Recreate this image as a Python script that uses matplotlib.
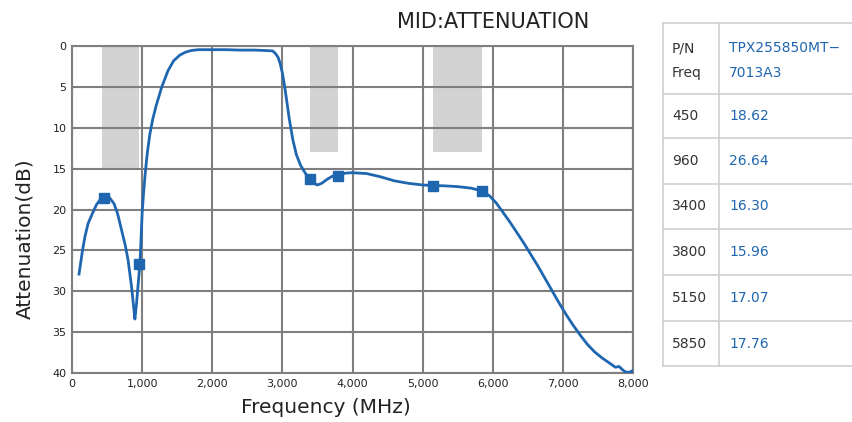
import matplotlib.pyplot as plt
from matplotlib.lines import Line2D
from matplotlib.ticker import FuncFormatter

# measured response (MHz, dB)
freq = [100, 150, 185, 230, 285, 350, 400, 470, 530, 600, 650, 712, 760,
        800, 850, 880, 897, 920, 945, 970, 985, 1000, 1020, 1045, 1075, 1110,
        1150, 1200, 1280, 1370, 1450, 1540, 1620, 1700, 1800, 2000, 2200, 2400,
        2600, 2750, 2860, 2900, 2940, 2970, 3000, 3030, 3060, 3100, 3150, 3200,
        3260, 3330, 3400, 3450, 3500, 3560, 3640, 3720, 3800, 3900, 4000, 4200,
        4400, 4600, 4800, 5000, 5150, 5300, 5500, 5700, 5850, 5950, 6050, 6150,
        6250, 6350, 6450, 6550, 6650, 6750, 6850, 6950, 7050, 7150, 7250, 7350,
        7450, 7550, 7650, 7700, 7750, 7800, 7850, 7900, 7950, 8000]
atten = [27.9, 25.0, 23.3, 21.7, 20.6, 19.4, 18.8, 18.3, 18.5, 19.3, 20.5,
         22.7, 24.4, 26.2, 29.5, 32.0, 33.4, 31.5, 29.0, 26.5, 23.5, 20.5,
         18.0, 15.5, 13.0, 10.8, 9.0, 7.3, 5.0, 3.0, 1.8, 1.1, 0.75, 0.55, 0.45,
         0.45, 0.45, 0.5, 0.5, 0.55, 0.6, 0.9, 1.4, 2.2, 3.3, 4.8, 6.6, 9.0,
         11.5, 13.3, 14.6, 15.6, 16.3, 16.8, 17.0, 16.8, 16.3, 15.9, 15.8, 15.55,
         15.5, 15.6, 16.0, 16.5, 16.8, 17.0, 17.07, 17.1, 17.2, 17.4, 17.76,
         18.3, 19.2, 20.4, 21.6, 22.9, 24.2, 25.6, 27.0, 28.5, 30.0, 31.5, 32.9,
         34.2, 35.4, 36.5, 37.4, 38.1, 38.7, 39.0, 39.3, 39.2, 39.6, 39.9, 39.9,
         39.7]

# spec points
spec_freq = [450, 960, 3400, 3800, 5150, 5850]
spec_atten = [18.62, 26.64, 16.30, 15.96, 17.07, 17.76]
spec_labels = ["18.62", "26.64", "16.30", "15.96", "17.07", "17.76"]

# passband / rejection windows: (start, stop, depth)
bands = [(425, 955, 15), (3400, 3800, 13), (5150, 5850, 13)]

blue = "#1f66b0"
grid_gray = "#7f7f7f"

fig = plt.figure(figsize=(8.53, 4.22), dpi=100)
ax = fig.add_axes([72/853, 49/422, 561/853, 327/422])

for x0, x1, d in bands:
    ax.bar(x0, d, width=x1 - x0, bottom=0, align="edge", color="#d3d3d3", zorder=1)

ax.plot(freq, atten, color=blue, lw=2, zorder=3)
ax.plot(spec_freq, spec_atten, "s", color=blue, ms=7, zorder=4)

ax.set_xlim(0, 8000)
ax.set_ylim(40, 0)
ax.set_xticks(range(0, 8001, 1000))
ax.set_yticks(range(0, 41, 5))
ax.xaxis.set_major_formatter(FuncFormatter(lambda v, p: f"{int(v):,}"))
ax.grid(True, color=grid_gray, lw=1.5, zorder=2)
ax.set_axisbelow(False)
for s in ax.spines.values():
    s.set_color(grid_gray)
    s.set_linewidth(1.5)
ax.tick_params(length=0, labelsize=8, pad=4)
for lab in ax.get_xticklabels() + ax.get_yticklabels():
    lab.set_color("#222222")

ax.set_xlabel("Frequency (MHz)", fontsize=14.5, color="#222222")
ax.set_ylabel("Attenuation(dB)", fontsize=14.5, color="#222222")
ax.xaxis.set_label_coords(0.453, -0.076)
ax.yaxis.set_label_coords(-0.068, 0.41)
fig.text(493/853, 1 - 22/422, "MID:ATTENUATION", ha="center", va="center",
         fontsize=15, color="#222222")

# data table on the right
tx0, tx1, tx2 = 663, 719, 860
rows_y = [23, 94, 138, 184, 229, 275, 321, 366]
line_kw = dict(color="#cfcfcf", lw=1.2, transform=fig.transFigure)
for y in rows_y:
    fig.add_artist(Line2D([tx0/853, tx2/853], [1 - y/422, 1 - y/422], **line_kw))
for x in (tx0, tx1):
    fig.add_artist(Line2D([x/853, x/853], [1 - rows_y[0]/422, 1 - rows_y[-1]/422], **line_kw))

fs = 10
fig.text(672/853, 1 - 48/422, "P/N", fontsize=fs, color="#333333", va="center")
fig.text(672/853, 1 - 73/422, "Freq", fontsize=fs, color="#333333", va="center")
fig.text(729/853, 1 - 48/422, "TPX255850MT−", fontsize=fs, color=blue, va="center")
fig.text(729/853, 1 - 73/422, "7013A3", fontsize=fs, color=blue, va="center")
for i, (f, lab) in enumerate(zip(spec_freq, spec_labels)):
    yc = (rows_y[i + 1] + rows_y[i + 2]) / 2
    fig.text(672/853, 1 - yc/422, str(f), fontsize=fs, color="#333333", va="center")
    fig.text(729/853, 1 - yc/422, lab, fontsize=fs, color=blue, va="center")

fig.savefig("out.png", dpi=100)
